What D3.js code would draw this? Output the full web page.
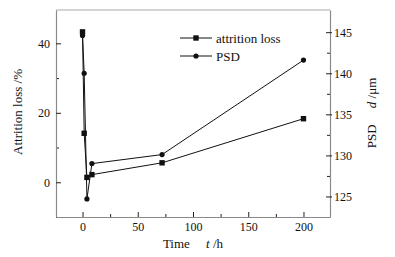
<!DOCTYPE html>
<html>
<head>
<meta charset="utf-8">
<script src="https://cdn.jsdelivr.net/npm/d3@7"></script>
<style>
  body { margin: 0; background: #fff; }
  text { font-family: "Liberation Serif", "Times New Roman", serif; fill: #111; }
</style>
</head>
<body>
<div id="chart"></div>
<script>
// Data
const times = [0, 1.5, 4, 8.5, 72, 200];          // t /h
const attritionLoss = [43.3, 14.1, 1.4, 2.2, 5.6, 18.3]; // %
const psd = [144.6, 140.0, 124.7, 129.0, 130.1, 141.6];  // d /μm
const xTicks = [0, 50, 100, 150, 200];
const leftTicks = [0, 20, 40];
const rightTicks = [125, 130, 135, 140, 145];

const W = 395, H = 257;
const margin = { top: 10, right: 65, bottom: 40, left: 56 };
const width = W - margin.left - margin.right,
      height = H - margin.top - margin.bottom;

const svg = d3.select('#chart').append('svg')
    .attr('width', W)
    .attr('height', H);

const g = svg.append('g')
    .attr('transform', `translate(${margin.left},${margin.top})`);

const x = d3.scaleLinear().domain([-24, 224]).range([0, width]);
const yL = d3.scaleLinear().domain([-10, 49.6]).range([height, 0]);
const yR = d3.scaleLinear().domain([122.5, 147.7]).range([height, 0]);

const frameColor = '#8a8a8a';

// top frame line
g.append('line')
    .attr('x1', 0).attr('x2', width).attr('y1', 0).attr('y2', 0)
    .attr('stroke', '#aaa').attr('stroke-width', 1.2);

// axes with inward ticks
function styleAxis(sel) {
    sel.attr('font-family', 'Liberation Serif').attr('font-size', 12);
    sel.select('.domain').attr('stroke', frameColor).attr('stroke-width', 1.2);
    sel.selectAll('.tick line').attr('stroke', '#222');
    sel.selectAll('text').style('font-size', '12px').style('font-family', 'Liberation Serif, serif');
}

// minor ticks
g.append('g').attr('transform', `translate(0,${height})`)
    .call(d3.axisBottom(x).tickValues([25, 75, 125, 175]).tickSize(-3).tickFormat(''))
    .call(s => s.select('.domain').remove())
    .selectAll('.tick line').attr('stroke', '#222');
g.append('g')
    .call(d3.axisLeft(yL).tickValues([-10, 10, 30]).tickSize(-3).tickFormat(''))
    .call(s => s.select('.domain').remove())
    .selectAll('.tick line').attr('stroke', '#222');
g.append('g').attr('transform', `translate(${width},0)`)
    .call(d3.axisRight(yR).tickValues([127.5, 132.5, 137.5, 142.5]).tickSize(-3).tickFormat(''))
    .call(s => s.select('.domain').remove())
    .selectAll('.tick line').attr('stroke', '#222');

g.append('g').attr('transform', `translate(0,${height})`)
    .call(d3.axisBottom(x).tickValues(xTicks).tickSizeInner(-5).tickSizeOuter(0).tickPadding(5))
    .call(styleAxis);

g.append('g')
    .call(d3.axisLeft(yL).tickValues(leftTicks).tickSizeInner(-5).tickSizeOuter(0).tickPadding(6))
    .call(styleAxis);

g.append('g').attr('transform', `translate(${width},0)`)
    .call(d3.axisRight(yR).tickValues(rightTicks).tickSizeInner(-5).tickSizeOuter(0).tickPadding(4))
    .call(styleAxis)
    .call(s => s.selectAll('.tick line').attr('x2', 2).attr('x1', -4));

// series
const lossPts = times.map((t, i) => [x(t), yL(attritionLoss[i])]);
const psdPts = times.map((t, i) => [x(t), yR(psd[i])]);
const line = d3.line();

g.append('path').attr('d', line(lossPts))
    .attr('fill', 'none').attr('stroke', '#111').attr('stroke-width', 1);
g.append('path').attr('d', line(psdPts))
    .attr('fill', 'none').attr('stroke', '#111').attr('stroke-width', 1);

g.selectAll('.sq').data(lossPts).enter().append('rect')
    .attr('x', d => d[0] - 2.7).attr('y', d => d[1] - 2.7)
    .attr('width', 5.4).attr('height', 5.4).attr('fill', '#111');
g.selectAll('.ci').data(psdPts).enter().append('circle')
    .attr('cx', d => d[0]).attr('cy', d => d[1]).attr('r', 2.6).attr('fill', '#111');

// legend
const legend = svg.append('g').attr('transform', 'translate(180,38)');
[['attrition loss', 'sq'], ['PSD', 'ci']].forEach((item, i) => {
    const yy = i * 18;
    legend.append('line').attr('x1', 0).attr('x2', 32).attr('y1', yy).attr('y2', yy)
        .attr('stroke', '#111').attr('stroke-width', 1);
    if (item[1] === 'sq') {
        legend.append('rect').attr('x', 16 - 2.7).attr('y', yy - 2.7)
            .attr('width', 5.4).attr('height', 5.4).attr('fill', '#111');
    } else {
        legend.append('circle').attr('cx', 16).attr('cy', yy).attr('r', 2.6).attr('fill', '#111');
    }
    legend.append('text').attr('x', 36).attr('y', yy).attr('dy', '.35em')
        .style('font-size', '13px').text(item[0]);
});

// axis titles
svg.append('text')
    .attr('transform', 'translate(22,112) rotate(-90)')
    .attr('text-anchor', 'middle')
    .style('font-size', '13px')
    .text('Attrition loss /%');

const rt = svg.append('text')
    .attr('transform', 'translate(376,113) rotate(-90)')
    .attr('text-anchor', 'middle')
    .style('font-size', '13px');
rt.append('tspan').text('PSD\u2003 ');
rt.append('tspan').style('font-style', 'italic').text('d');
rt.append('tspan').text(' /\u03bcm');

const bt = svg.append('text')
    .attr('x', 193).attr('y', 248)
    .attr('text-anchor', 'middle')
    .style('font-size', '13px');
bt.append('tspan').text('Time\u2003 ');
bt.append('tspan').style('font-style', 'italic').text('t');
bt.append('tspan').text(' /h');
</script>
</body>
</html>
